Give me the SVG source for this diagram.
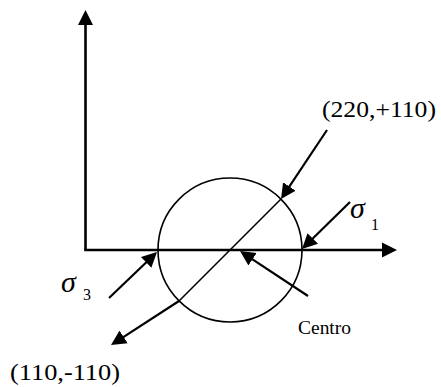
<svg xmlns="http://www.w3.org/2000/svg" width="441" height="387" viewBox="0 0 441 387">
<style>
.ax{stroke:#000;stroke-width:2.6;fill:none}
.ar{stroke:#000;stroke-width:2.2;fill:none;marker-end:url(#ah)}
.thin{stroke:#000;stroke-width:1.6;fill:none}
.t{font-family:"Liberation Serif","Times New Roman",serif;fill:#000}
.s{font-family:"Liberation Serif","Times New Roman",serif;font-style:italic;fill:#000}
</style>
<defs>
<marker id="ah" markerUnits="userSpaceOnUse" markerWidth="16" markerHeight="16" viewBox="0 0 16 16" refX="10" refY="8" orient="auto">
<path d="M0,0.5 L15,8 L0,15.5 z" fill="#000"/>
</marker>
</defs>
<g id="axes">
<path class="ax" d="M85.5,250 L85.5,15" marker-end="url(#ah)"/>
<path class="ax" d="M84.2,250 L392,250" marker-end="url(#ah)"/>
</g>
<g id="circle">
<circle class="thin" cx="230" cy="250" r="72"/>
<path class="thin" d="M281,199 L179,301"/>
</g>
<g id="connectors">
<path class="ar" d="M327,130 L283.8,194.8"/>
<path class="ar" d="M350,202 L305.6,245.5"/>
<path class="ar" d="M109,298 L153.4,255.5"/>
<path class="ar" d="M308,296 L244.2,253.8"/>
<path class="ar" d="M179,301 L115.2,342.3"/>
</g>
<g id="label-220">
<text class="t" x="322" y="117" font-size="23" textLength="114" lengthAdjust="spacingAndGlyphs">(220,+110)</text>
</g>
<g id="label-110">
<text class="t" x="10" y="380" font-size="23" textLength="110" lengthAdjust="spacingAndGlyphs">(110,-110)</text>
</g>
<g id="label-centro">
<text class="t" x="298" y="334" font-size="19" textLength="53" lengthAdjust="spacingAndGlyphs">Centro</text>
</g>
<g id="label-sigma1">
<text class="s" x="350" y="218" font-size="30">σ</text>
<text class="t" x="371" y="230" font-size="16">1</text>
</g>
<g id="label-sigma3">
<text class="s" x="61" y="292" font-size="30">σ</text>
<text class="t" x="83" y="300" font-size="16">3</text>
</g>
</svg>
